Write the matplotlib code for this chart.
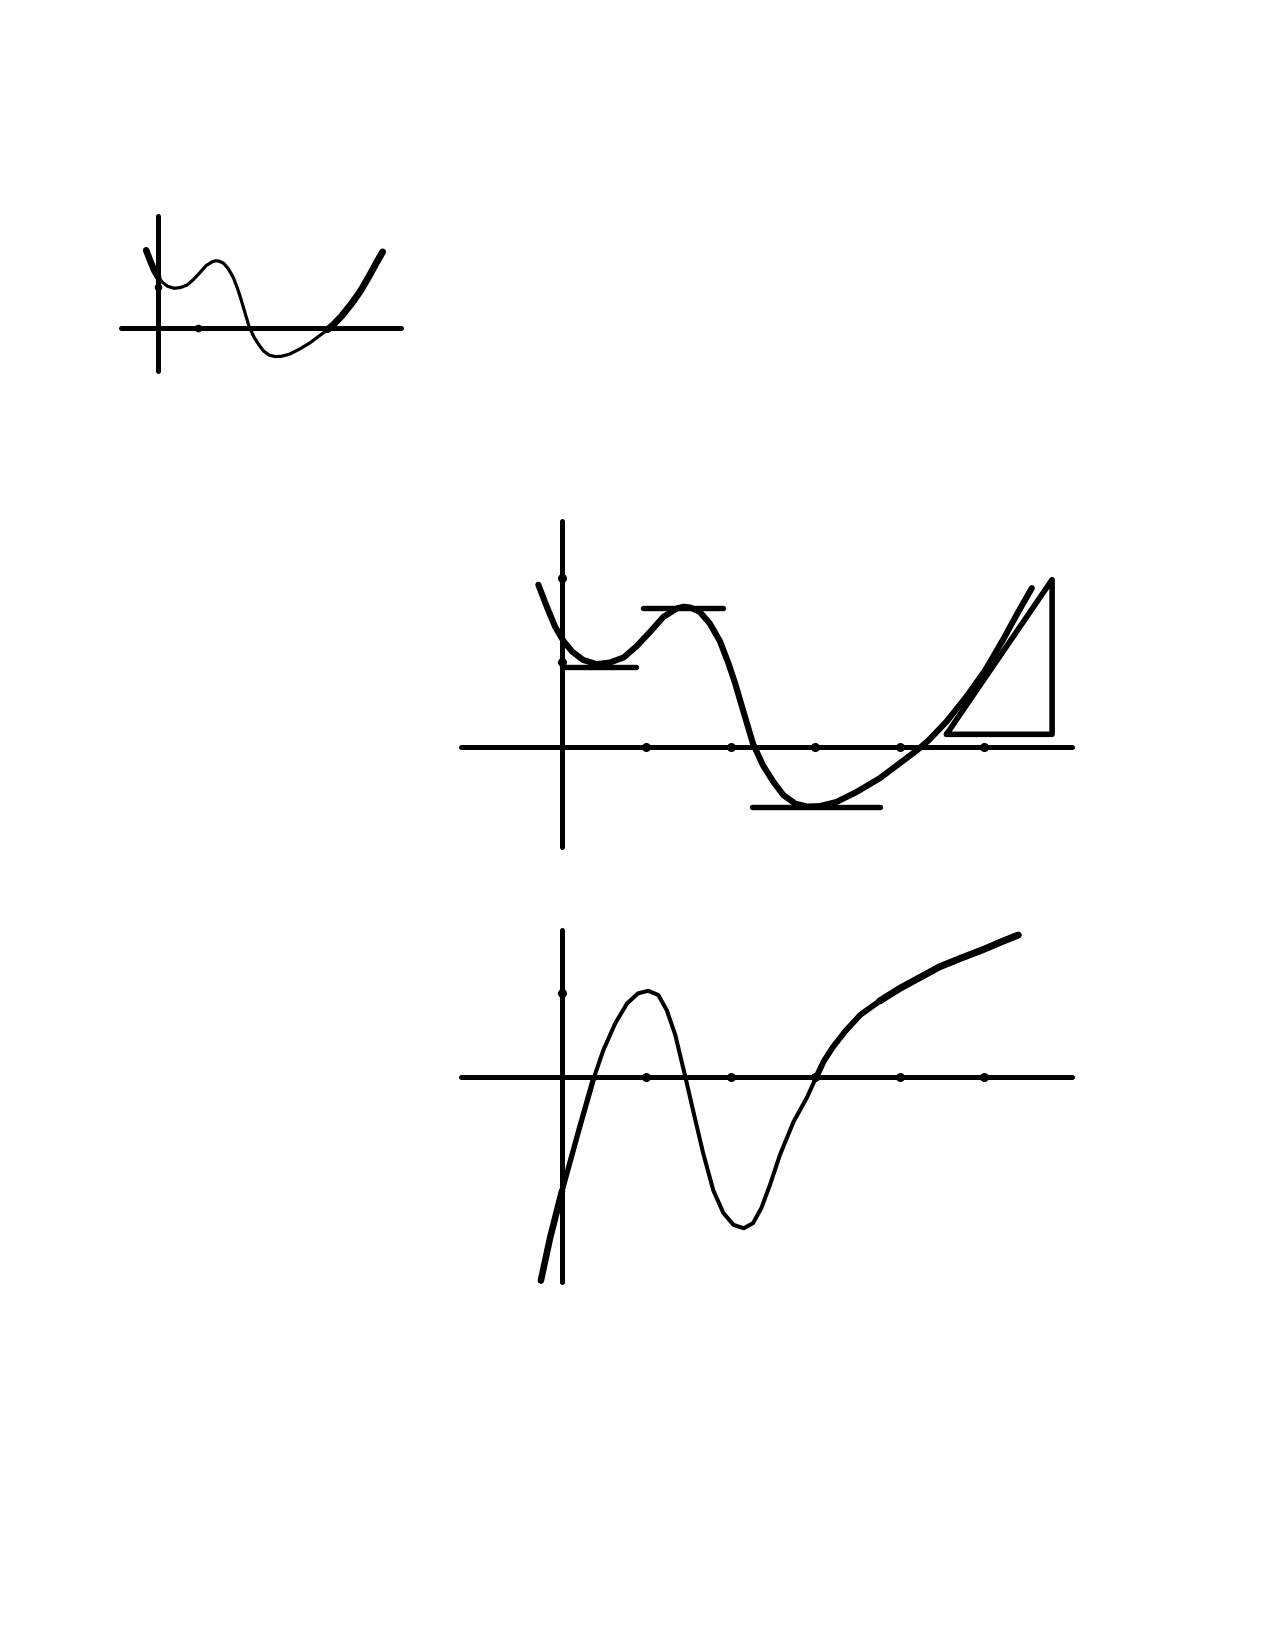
import numpy as np
import matplotlib
matplotlib.use("Agg")
import matplotlib.pyplot as plt

# f(x) (units = tick spacing)
f_x = [-0.28, -0.18, -0.08, 0.02, 0.12, 0.25, 0.41, 0.57, 0.73, 0.88, 1.04, 1.2,
       1.36, 1.44, 1.52, 1.63, 1.75, 1.87, 1.97, 2.05, 2.15, 2.26, 2.38, 2.5,
       2.62, 2.76, 2.9, 3.05, 3.25, 3.49, 3.76, 4.0, 4.2, 4.34, 4.55, 4.79,
       5.01, 5.22, 5.4, 5.56]
f_y = [1.92, 1.66, 1.42, 1.25, 1.13, 1.03, 0.98, 1.0, 1.06, 1.19, 1.36, 1.54,
       1.64, 1.66, 1.65, 1.6, 1.46, 1.25, 0.99, 0.75, 0.41, 0.04, -0.22, -0.41,
       -0.57, -0.67, -0.705, -0.7, -0.65, -0.53, -0.37, -0.19, -0.04, 0.08, 0.3, 0.6,
       0.91, 1.27, 1.6, 1.88]

# f'(x)
df_x = [-0.25, -0.14, 0.0, 0.21, 0.37, 0.49, 0.63, 0.77, 0.9, 1.02, 1.14, 1.24,
        1.34, 1.46, 1.55, 1.67, 1.79, 1.91, 2.03, 2.15, 2.26, 2.36, 2.46, 2.58,
        2.74, 2.9, 3.0, 3.1, 3.21, 3.36, 3.53, 3.76, 4.0, 4.24, 4.47, 4.73, 4.99, 5.2, 5.4]
df_y = [-2.41, -1.9, -1.35, -0.59, -0.03, 0.32, 0.635, 0.87, 0.99, 1.02, 0.97, 0.79,
        0.5, 0.0, -0.39, -0.9, -1.34, -1.61, -1.75, -1.79, -1.73, -1.55, -1.28, -0.92,
        -0.53, -0.24, -0.02, 0.19, 0.36, 0.55, 0.735, 0.9, 1.05, 1.18, 1.305, 1.41, 1.51, 1.6, 1.68]

# horizontal tangents at the turning points of f
tan_x0 = [0.0, 0.96, 2.245]
tan_x1 = [0.88, 1.91, 3.76]
tan_y = [0.95, 1.65, -0.705]

# slope triangle
tri_x = [4.55, 5.8, 5.8, 4.55]
tri_y = [0.15, 0.15, 1.98, 0.15]

W, H = 1275, 1651
fig = plt.figure(figsize=(W / 100, H / 100), dpi=100)
fig.patch.set_facecolor("white")


def make_axes(ox, oy, unit, xlim, ylim):
    left = ox + xlim[0] * unit
    right = ox + xlim[1] * unit
    top = oy - ylim[1] * unit
    bottom = oy - ylim[0] * unit
    ax = fig.add_axes([left / W, 1 - bottom / H, (right - left) / W, (bottom - top) / H])
    ax.set_xlim(xlim)
    ax.set_ylim(ylim)
    ax.axis("off")
    return ax


def draw_axes(ax, xr, yr, xticks, yticks, lw, ms):
    kw = dict(color="black", lw=lw, solid_capstyle="round")
    ax.plot(xr, [0, 0], **kw)
    ax.plot([0, 0], yr, **kw)
    ax.plot(xticks, [0] * len(xticks), "o", color="black", ms=ms)
    ax.plot([0] * len(yticks), yticks, "o", color="black", ms=ms)


fx = np.array(f_x)
fy = np.array(f_y)
dx = np.array(df_x)
dy = np.array(df_y)
line = dict(color="black", solid_capstyle="round", solid_joinstyle="round")

# small sketch at the top
ax1 = make_axes(157.5, 328, 40.5, (-1.2, 6.3), (-1.3, 3.0))
draw_axes(ax1, [-0.9, 6.0], [-1.06, 2.77], [1], [1], 3.6, 4.5)
ax1.plot(fx, fy, lw=2.3, **line)
m = fx <= 0.02
ax1.plot(fx[m], fy[m], lw=4.7, **line)
m = fx >= 4.2
ax1.plot(fx[m], fy[m], lw=4.9, **line)

# f with tangents and slope triangle
ax2 = make_axes(562, 747, 84.5, (-1.4, 6.3), (-1.5, 2.9))
draw_axes(ax2, [-1.2, 6.03], [-1.18, 2.67], [1, 2, 3, 4, 5], [1, 2], 3.6, 5.5)
ax2.plot(fx, fy, lw=4.4, **line)
for x0, x1, y in zip(tan_x0, tan_x1, tan_y):
    ax2.plot([x0, x1], [y, y], lw=3.9, **line)
ax2.plot(tri_x, tri_y, lw=4.0, **line)

# derivative sketch
ax3 = make_axes(562, 1077, 84.5, (-1.4, 6.3), (-2.6, 1.9))
draw_axes(ax3, [-1.2, 6.03], [-2.43, 1.74], [1, 2, 3, 4, 5], [1], 3.6, 5.5)
ax3.plot(dx, dy, lw=2.9, **line)
m = dx <= 0.37
ax3.plot(dx[m], dy[m], lw=3.8, **line)
m = dx <= 0.0
ax3.plot(dx[m], dy[m], lw=4.7, **line)
m = dx >= 3.0
ax3.plot(dx[m], dy[m], lw=4.2, **line)
m = dx >= 3.76
ax3.plot(dx[m], dy[m], lw=5.0, **line)

fig.savefig("out.png", dpi=100, facecolor="white")
